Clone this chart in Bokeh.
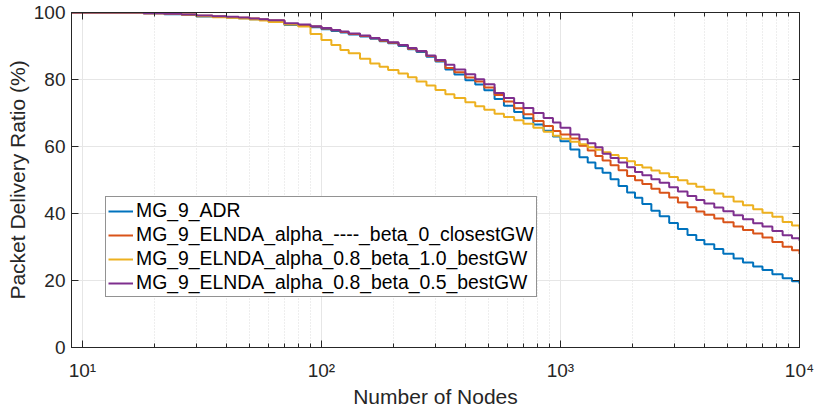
from bokeh.plotting import figure
from bokeh.models import FixedTicker, LogAxis, LinearAxis, Legend, LegendItem
from bokeh.embed import file_html
from bokeh.resources import INLINE

nodes = [9, 12, 15, 18, 22, 26, 30, 35, 40, 45, 50, 55, 60, 70, 80, 90, 100, 110, 120, 130,
         145, 160, 175, 190, 210, 230, 250, 275, 300, 330, 360, 400, 440, 480, 530, 580, 640,
         700, 770, 850, 930, 1000, 1100, 1200, 1300, 1400, 1500, 1620, 1750, 1900, 2050, 2200,
         2400, 2600, 2850, 3100, 3400, 3700, 4000, 4400, 4800, 5300, 5800, 6400, 7000, 7700,
         8500, 9300, 10000]

pdr_adr = [100, 100, 100, 99.8, 99.5, 99.3, 98.8, 98.7, 98.5, 98.3, 98.0, 97.8, 97.4, 96.3, 96.0,
           95.6, 95.0, 94.5, 94.0, 93.4, 92.8, 92.2, 91.4, 90.8, 90.0, 89.0, 88.2, 86.8, 85.4, 83.0,
           81.5, 79.8, 78.5, 76.8, 74.2, 72.2, 70.3, 68.4, 66.6, 64.7, 63.0, 61.6, 59.1, 56.8, 55.2,
           53.5, 52.2, 50.2, 48.2, 46.3, 44.7, 42.8, 40.8, 39.2, 37.2, 35.4, 33.6, 32.1, 30.8, 29.4,
           28.0, 26.6, 25.4, 24.2, 23.1, 21.9, 20.7, 19.8, 19.0]

pdr_closest = [100, 100, 100, 99.8, 99.6, 99.4, 99.0, 98.8, 98.6, 98.4, 98.2, 97.9, 97.6, 96.6, 96.2,
               95.8, 95.2, 94.7, 94.2, 93.6, 93.0, 92.3, 91.6, 91.0, 90.2, 89.2, 88.4, 87.0, 85.6, 83.4,
               82.2, 80.6, 79.4, 77.6, 75.4, 73.4, 71.4, 69.6, 67.6, 66.1, 64.6, 63.6, 62.4, 60.2, 58.8,
               57.2, 55.8, 54.4, 52.9, 51.2, 49.9, 48.8, 47.4, 46.2, 44.8, 43.3, 41.9, 40.6, 39.6, 38.5,
               37.4, 36.1, 35.1, 34.0, 32.8, 31.5, 30.1, 29.0, 27.9]

pdr_b10 = [100, 100, 100, 99.8, 99.6, 99.3, 98.9, 98.6, 98.4, 98.2, 97.9, 97.6, 97.2, 96.4, 95.8,
           93.6, 91.8, 90.3, 88.8, 87.8, 86.2, 84.8, 83.8, 82.8, 81.8, 80.7, 79.4, 78.2, 76.9, 75.6,
           74.5, 73.2, 72.0, 71.0, 69.8, 68.8, 67.8, 66.8, 65.6, 64.4, 63.2, 62.3, 61.4, 60.7, 59.8,
           59.0, 58.3, 57.5, 56.6, 55.6, 54.5, 53.7, 52.8, 52.0, 50.9, 49.9, 48.9, 48.0, 47.1, 46.0,
           45.0, 43.6, 42.5, 41.3, 40.2, 39.0, 37.5, 36.4, 35.3]

pdr_b05 = [100, 100, 100, 99.8, 99.6, 99.4, 99.1, 98.9, 98.7, 98.5, 98.2, 98.0, 97.7, 96.8, 96.4,
           95.9, 95.4, 94.8, 94.3, 93.7, 93.1, 92.4, 91.8, 91.1, 90.3, 89.4, 88.5, 87.2, 85.8, 84.4,
           83.0, 81.6, 80.1, 78.6, 76.0, 74.5, 73.0, 71.5, 70.0, 68.5, 67.2, 65.6, 63.6, 62.2, 61.0,
           59.8, 57.8, 56.6, 55.2, 53.8, 52.4, 51.4, 50.2, 49.2, 47.8, 46.6, 45.2, 44.0, 43.0, 41.8,
           40.7, 39.5, 38.3, 37.1, 36.1, 34.8, 33.5, 32.6, 31.9]

labels = ["MG_9_ADR",
          "MG_9_ELNDA_alpha_----_beta_0_closestGW",
          "MG_9_ELNDA_alpha_0.8_beta_1.0_bestGW",
          "MG_9_ELNDA_alpha_0.8_beta_0.5_bestGW"]
colors = ["#0072BD", "#D95319", "#EDB120", "#7E2F8E"]
series = [pdr_adr, pdr_closest, pdr_b10, pdr_b05]

x_ticks = [10, 100, 1000, 10000]
x_tick_labels = {10: "10¹", 100: "10²", 1000: "10³", 10000: "10⁴"}
x_minor = [9] + [d * m for d in [10, 100, 1000] for m in range(2, 10)]
y_ticks = [0, 20, 40, 60, 80, 100]

FONT = "Liberation Sans"
AX = "#262626"

p = figure(width=814, height=410, x_axis_type="log", x_range=(9, 10000), y_range=(0, 100),
           output_backend="svg", toolbar_location=None,
           min_border_left=71, min_border_right=15, min_border_top=12, min_border_bottom=10)
p.outline_line_color = AX
p.outline_line_width = 1

items = []
for lab, col, ys in zip(labels, colors, series):
    r = p.step(nodes, ys, mode="after", line_color=col, line_width=2)
    items.append(LegendItem(label=lab, renderers=[r]))

for ax in [p.xaxis[0], p.yaxis[0]]:
    ax.axis_line_color = AX
    ax.major_tick_line_color = AX
    ax.minor_tick_line_color = AX
    ax.major_tick_in = 7
    ax.major_tick_out = 0
    ax.minor_tick_in = 4
    ax.minor_tick_out = 0
    ax.major_label_text_font = FONT
    ax.major_label_text_font_size = "19px"
    ax.major_label_text_color = AX
    ax.axis_label_text_font = FONT
    ax.axis_label_text_font_size = "21px"
    ax.axis_label_text_font_style = "normal"
    ax.axis_label_text_color = AX

xticker = FixedTicker(ticks=x_ticks, minor_ticks=x_minor)
p.xaxis[0].ticker = xticker
p.xaxis[0].major_label_overrides = x_tick_labels
p.xaxis[0].axis_label = "Number of Nodes"
p.xaxis[0].major_label_standoff = 12
p.xaxis[0].axis_label_standoff = 1

p.yaxis[0].ticker = FixedTicker(ticks=y_ticks)
p.yaxis[0].minor_tick_line_color = None
p.yaxis[0].axis_label = "Packet Delivery Ratio (%)"
p.yaxis[0].major_label_standoff = 6
p.yaxis[0].axis_label_standoff = 2

# mirrored axes (ticks only, no labels)
top = LogAxis(ticker=FixedTicker(ticks=x_ticks, minor_ticks=x_minor),
              major_label_overrides={t: "" for t in x_ticks},
              major_label_text_font_size="1px", major_label_standoff=0,
              axis_line_color=AX, major_tick_line_color=AX, minor_tick_line_color=AX,
              major_tick_in=7, major_tick_out=0, minor_tick_in=4, minor_tick_out=0)
right = LinearAxis(ticker=FixedTicker(ticks=y_ticks),
                   major_label_overrides={t: "" for t in y_ticks},
                   major_label_text_font_size="1px", major_label_standoff=0,
                   axis_line_color=AX, major_tick_line_color=AX,
                   minor_tick_line_color=None, major_tick_in=7, major_tick_out=0)
p.add_layout(top, "above")
p.add_layout(right, "right")

p.xgrid.ticker = xticker
p.ygrid.ticker = FixedTicker(ticks=y_ticks)
p.xgrid.grid_line_color = "#e6e6e6"
p.ygrid.grid_line_color = "#e6e6e6"
p.xgrid.minor_grid_line_color = "#dcdcdc"
p.xgrid.minor_grid_line_dash = "1 2"

legend = Legend(items=items, location=(34, 50))
legend.label_text_font = FONT
legend.label_text_font_size = "19.4px"
legend.label_text_color = "#000000"
legend.glyph_width = 25
legend.label_standoff = 3
legend.label_height = 20
legend.glyph_height = 20
legend.spacing = 1
legend.padding = 2
legend.margin = 0
legend.border_line_color = AX
legend.border_line_width = 1
legend.background_fill_alpha = 1
p.add_layout(legend, "center")

open("out.html", "w").write(file_html(p, INLINE))
